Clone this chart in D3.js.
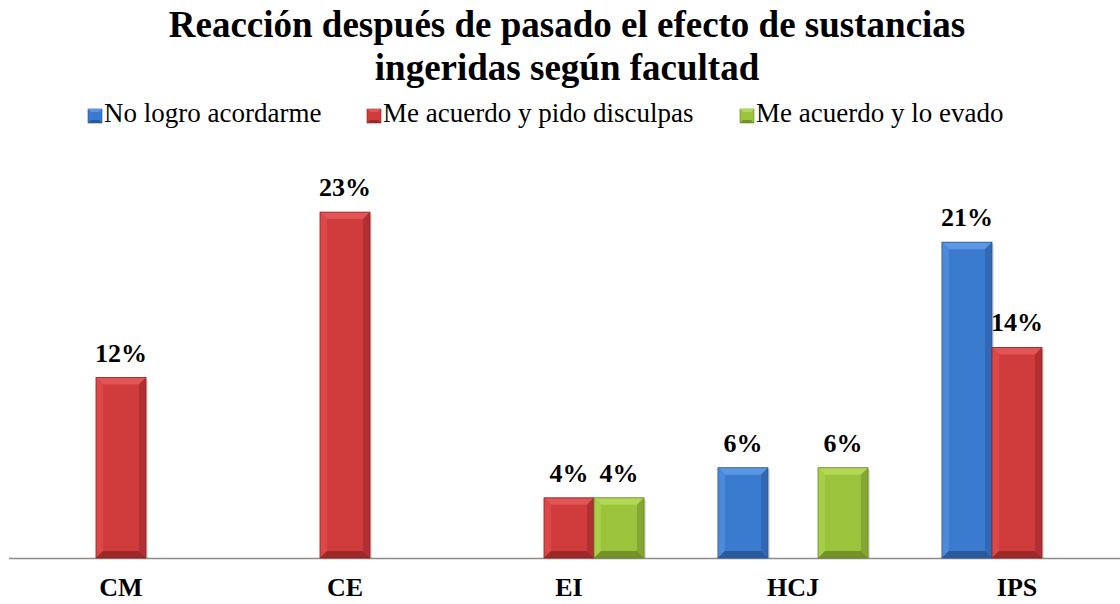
<!DOCTYPE html>
<html>
<head>
<meta charset="utf-8">
<script src="https://cdn.jsdelivr.net/npm/d3@7"></script>
<style>
  body { margin: 0; background: #fff; }
  svg text { font-family: 'Liberation Serif', 'Times New Roman', serif; }
</style>
</head>
<body>
<svg id="chart" width="1120" height="604"></svg>
<script>
const categories = ['CM', 'CE', 'EI', 'HCJ', 'IPS']
const seriesNames = ['No logro acordarme', 'Me acuerdo y pido disculpas', 'Me acuerdo y lo evado']
// porcentajes por facultad, null = sin barra
const noLogro = [null, null, null, 0.06, 0.21]
const pidoDisculpas = [0.12, 0.23, 0.04, null, 0.14]
const loEvado = [null, null, 0.04, 0.06, null]

const width = 1120
const height = 604
const baseY = 558
const serif = "'Liberation Serif', 'Times New Roman', serif"

const palette = [
  { face: '#3b7bcf', top: '#5b97e2', left: '#4d8ad9', right: '#3068b5', bottom: '#2a5a9c', edge: '#2a5590' },
  { face: '#d03b3c', top: '#e25556', left: '#da4849', right: '#b03031', bottom: '#9c2829', edge: '#8e2426' },
  { face: '#9bc43c', top: '#b1d955', left: '#a6cf47', right: '#84a82f', bottom: '#739329', edge: '#66852a' }
]

const data = categories.map((c, i) => ({
  cat: c,
  values: [noLogro[i], pidoDisculpas[i], loEvado[i]]
}))

const svg = d3.select('#chart')

const x0 = d3.scaleBand()
  .domain(categories)
  .range([9, 1129])
  .paddingInner(0.33)
  .paddingOuter(0.165)

const x1 = d3.scaleBand()
  .domain(d3.range(seriesNames.length))
  .range([0, x0.bandwidth()])

const y = d3.scaleLinear()
  .domain([0, 0.25])
  .range([baseY, 182])

// titulo
const title = svg.append('text')
  .attr('text-anchor', 'middle')
  .attr('font-family', serif)
  .attr('font-weight', 'bold')
  .attr('font-size', 37)
title.append('tspan').attr('x', 567).attr('y', 37).text('Reacción después de pasado el efecto de sustancias')
title.append('tspan').attr('x', 567).attr('y', 80).text('ingeridas según facultad')

// leyenda
const legendX = [88, 367, 740]
const legend = svg.append('g')
legendX.forEach((lx, i) => {
  const g = legend.append('g').attr('transform', `translate(${lx},109)`)
  g.append('rect').attr('width', 14).attr('height', 14).attr('fill', palette[i].face)
    .attr('stroke', palette[i].edge).attr('stroke-width', 0.6)
  g.append('polygon').attr('points', '0,0 14,0 11,3 3,3').attr('fill', palette[i].top)
  g.append('polygon').attr('points', '0,14 14,14 11,11 3,11').attr('fill', palette[i].bottom)
  g.append('text').attr('x', 16).attr('y', 13)
    .attr('font-family', serif).attr('font-size', 27).text(seriesNames[i])
})

// eje
svg.append('line')
  .attr('x1', 9).attr('x2', 1120)
  .attr('y1', baseY + 0.5).attr('y2', baseY + 0.5)
  .attr('stroke', '#8c8c8c').attr('stroke-width', 1.5)

const xAxis = svg.append('g')
  .attr('transform', `translate(0,${baseY})`)
  .call(d3.axisBottom(x0).tickSize(0).tickPadding(20))
xAxis.select('.domain').remove()
xAxis.attr('font-family', serif)
xAxis.selectAll('text')
  .attr('font-family', serif)
  .attr('font-size', 26)
  .attr('font-weight', 'bold')
  .attr('fill', '#000')

// barras con bisel
const bars = []
data.forEach(d => {
  d.values.forEach((v, s) => {
    if (v == null) return
    bars.push({ cat: d.cat, s, v })
  })
})

const bev = 7
const barG = svg.append('g')
  .selectAll('g')
  .data(bars)
  .join('g')
  .attr('transform', d => `translate(${x0(d.cat) + x1(d.s)},${y(d.v)})`)

barG.each(function (d) {
  const g = d3.select(this)
  const w = x1.bandwidth()
  const h = baseY - y(d.v)
  const c = palette[d.s]
  const b = Math.min(bev, h / 2)
  g.append('rect').attr('x', 2).attr('y', 2).attr('width', w).attr('height', h - 2)
    .attr('fill', '#000').attr('opacity', 0.12)
  g.append('rect').attr('width', w).attr('height', h).attr('fill', c.face)
  g.append('polygon').attr('points', `0,0 ${w},0 ${w - b},${b} ${b},${b}`).attr('fill', c.top)
  g.append('polygon').attr('points', `0,0 ${b},${b} ${b},${h - b} 0,${h}`).attr('fill', c.left)
  g.append('polygon').attr('points', `${w},0 ${w},${h} ${w - b},${h - b} ${w - b},${b}`).attr('fill', c.right)
  g.append('polygon').attr('points', `0,${h} ${w},${h} ${w - b},${h - b} ${b},${h - b}`).attr('fill', c.bottom)
  g.append('rect').attr('width', w).attr('height', h).attr('fill', 'none')
    .attr('stroke', c.edge).attr('stroke-width', 0.8)
})

svg.append('g')
  .selectAll('text')
  .data(bars)
  .join('text')
  .attr('x', d => x0(d.cat) + x1(d.s) + x1.bandwidth() / 2)
  .attr('y', d => y(d.v) - 16)
  .attr('text-anchor', 'middle')
  .attr('font-family', serif)
  .attr('font-size', 26)
  .attr('font-weight', 'bold')
  .text(d => d3.format('.0%')(d.v))
</script>
</body>
</html>
